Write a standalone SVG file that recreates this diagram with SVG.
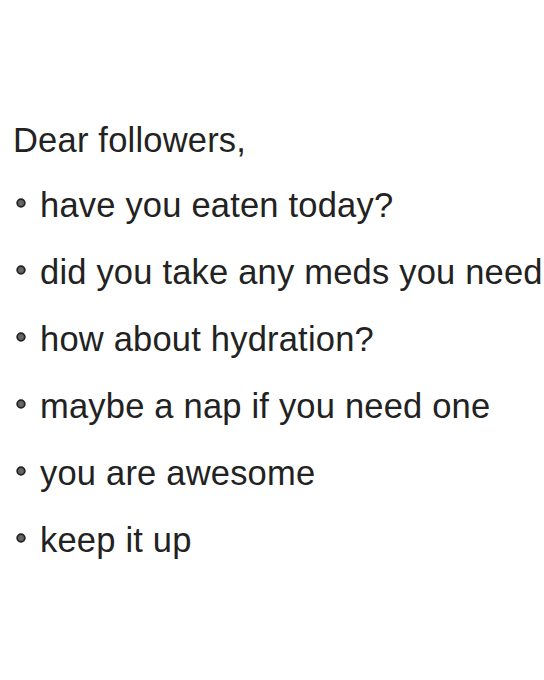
<svg xmlns="http://www.w3.org/2000/svg" width="544" height="680" viewBox="0 0 544 680">
  <style>
    .t { font-family: "Liberation Sans", Arial, sans-serif; font-size: 34.5px; letter-spacing: 0.2px; fill: #222; }
    .b { fill: #666; stroke: #222; stroke-width: 1.8; }
  </style>
  <rect width="544" height="680" fill="#fff"/>
  <g id="heading">
    <text class="t" x="13" y="152">Dear followers,</text>
  </g>
  <g id="item1">
    <circle class="b" cx="21" cy="203" r="3.8"/>
    <text class="t" x="40" y="217">have you eaten today?</text>
  </g>
  <g id="item2">
    <circle class="b" cx="21" cy="270" r="3.8"/>
    <text class="t" x="40" y="284">did you take any meds you need</text>
  </g>
  <g id="item3">
    <circle class="b" cx="21" cy="337" r="3.8"/>
    <text class="t" x="40" y="351">how about hydration?</text>
  </g>
  <g id="item4">
    <circle class="b" cx="21" cy="404" r="3.8"/>
    <text class="t" x="40" y="418">maybe a nap if you need one</text>
  </g>
  <g id="item5">
    <circle class="b" cx="21" cy="471" r="3.8"/>
    <text class="t" x="40" y="485">you are awesome</text>
  </g>
  <g id="item6">
    <circle class="b" cx="21" cy="538" r="3.8"/>
    <text class="t" x="40" y="552">keep it up</text>
  </g>
</svg>
